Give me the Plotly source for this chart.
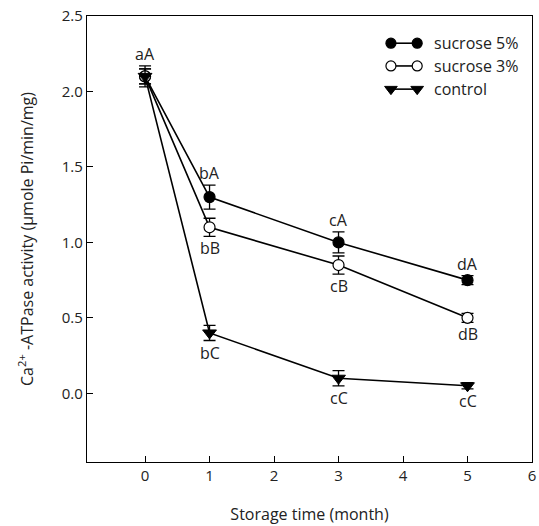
import plotly.graph_objects as go

months = [0, 1, 3, 5]
suc5 = [2.10, 1.30, 1.00, 0.75]
suc5_err = [0.07, 0.08, 0.07, 0.03]
suc3 = [2.10, 1.10, 0.85, 0.50]
suc3_err = [0.05, 0.06, 0.06, 0.03]
ctrl = [2.10, 0.40, 0.10, 0.05]
ctrl_err = [0.05, 0.05, 0.05, 0.02]

lab5 = ["aA", "bA", "cA", "dA"]
lab3 = ["", "bB", "cB", "dB"]
labc = ["", "bC", "cC", "cC"]

names = ["sucrose 5%", "sucrose 3%", "control"]
FONT = "Open Sans, Lato, sans-serif"
FS = 15
FL = 16

fig = go.Figure()

series = [
    (suc5, suc5_err, dict(symbol="circle", size=11, color="black", line=dict(color="black", width=1.2))),
    (suc3, suc3_err, dict(symbol="circle", size=11, color="white", line=dict(color="black", width=1.2))),
    (ctrl, ctrl_err, dict(symbol="triangle-down", size=12, color="black", line=dict(color="black", width=1))),
]
for (vals, err, mk), nm in zip(series, names):
    fig.add_trace(go.Scatter(
        x=months, y=vals, mode="lines+markers", name=nm,
        line=dict(color="black", width=1.6),
        marker=mk,
        error_y=dict(type="data", array=err, visible=True, color="black", thickness=1.3, width=6),
        showlegend=False,
    ))

# labels
for x, y, e, t in zip(months, suc5, suc5_err, lab5):
    if t:
        fig.add_annotation(x=x, y=y + e, text=t, showarrow=False, yshift=12, font=dict(size=FL, family=FONT, color="#222"))
for x, y, e, t in zip(months, suc3, suc3_err, lab3):
    if t:
        fig.add_annotation(x=x, y=y - e, text=t, showarrow=False, yshift=-12, font=dict(size=FL, family=FONT, color="#222"))
for x, y, e, t in zip(months, ctrl, ctrl_err, labc):
    if t:
        fig.add_annotation(x=x, y=y - e, text=t, showarrow=False, yshift=-12, font=dict(size=FL, family=FONT, color="#222"))

# custom legend on overlay axes
leg_y = [0.939, 0.888, 0.836]
for (vals, err, mk), nm, ly in zip(series, names, leg_y):
    fig.add_trace(go.Scatter(
        x=[0.683, 0.742], y=[ly, ly], mode="lines+markers",
        line=dict(color="black", width=1.6), marker=dict(mk, size=mk["size"] - 1),
        xaxis="x2", yaxis="y2", showlegend=False, hoverinfo="skip",
    ))
    fig.add_annotation(x=0.776, y=ly, xref="x2", yref="y2", text=nm, showarrow=False,
                       xanchor="left", font=dict(size=FL, family=FONT, color="#222"))

fig.update_layout(
    width=539, height=526,
    margin=dict(l=87, r=7, t=16, b=64, autoexpand=False),
    paper_bgcolor="white", plot_bgcolor="white",
    font=dict(family=FONT, size=FS, color="#222"),
    xaxis=dict(range=[-0.9, 6], tickvals=[0, 1, 2, 3, 4, 5, 6], ticks="inside", ticklen=6,
               tickcolor="black", showline=True, linecolor="black", linewidth=1.2, mirror=True,
               showgrid=False, zeroline=False, automargin=False,
               title=dict(text="Storage time (month)", standoff=24, font=dict(size=FL, family=FONT)),
               tickfont=dict(size=FS, family=FONT)),
    yaxis=dict(range=[-0.455, 2.5], tickvals=[0, 0.5, 1.0, 1.5, 2.0, 2.5], tickformat=".1f",
               ticks="inside", ticklen=6, tickcolor="black", showline=True, linecolor="black",
               linewidth=1.2, mirror=True, showgrid=False, zeroline=False, automargin=False,
               title=dict(text="Ca<sup>2+</sup> -ATPase activity (µmole Pi/min/mg)", standoff=24,
                          font=dict(size=FL, family=FONT)),
               tickfont=dict(size=FS, family=FONT)),
    xaxis2=dict(range=[0, 1], overlaying="x", visible=False, fixedrange=True),
    yaxis2=dict(range=[0, 1], overlaying="y", visible=False, fixedrange=True),
)

fig.write_html("out.html", config={"displayModeBar": False},
               post_script="document.body.style.margin='0';document.body.style.overflow='hidden';")
